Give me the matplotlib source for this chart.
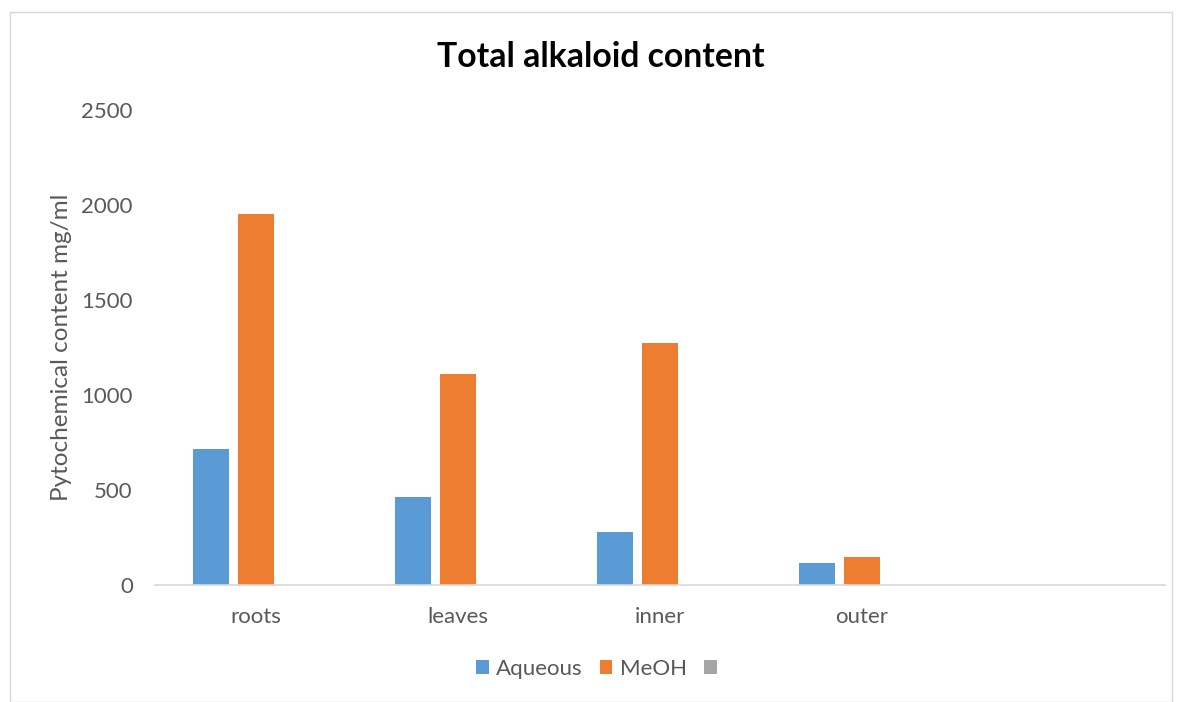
import numpy as np
import matplotlib.pyplot as plt
from matplotlib.patches import Rectangle

categories = ["roots", "leaves", "inner", "outer", ""]
aqueous = [718, 464, 280, 118, 0]
meoh = [1954, 1113, 1274, 148, 0]
third = [0, 0, 0, 0, 0]

series = [("Aqueous", aqueous, "#5B9BD5"), ("MeOH", meoh, "#ED7D31"), (" ", third, "#A5A5A5")]

plt.rcParams["font.family"] = ["Lato", "DejaVu Sans"]
text_color = "#595959"

fig = plt.figure(figsize=(11.81, 7.02), dpi=100)
ax = fig.add_axes([155 / 1181, 1 - 585 / 702, 1010 / 1181, 475 / 702])

x = np.arange(len(categories))
width = 0.178
step = 0.223
for i, (name, vals, color) in enumerate(series):
    ax.bar(x + (i - 1) * step, vals, width, color=color, label=name)

ax.set_xlim(-0.5, len(categories) - 0.5)
ax.set_ylim(0, 2500)
ax.set_yticks(range(0, 2501, 500))
ax.set_xticks(x)
ax.set_xticklabels(categories)
ax.tick_params(axis="both", length=0, labelsize=16, colors=text_color)
ax.tick_params(axis="y", pad=16)
ax.tick_params(axis="x", pad=16)
for s in ["top", "right", "left"]:
    ax.spines[s].set_visible(False)
ax.spines["bottom"].set_color("#D9D9D9")
ax.spines["bottom"].set_linewidth(1.2)

ax.set_ylabel("Pytochemical content mg/ml", fontsize=17.5, color=text_color, labelpad=7)
fig.text(601 / 1181, 1 - 57 / 702, "Total alkaloid content", ha="center", va="center",
         fontsize=24.3, fontweight="bold", color="black")

fig.legend(loc="center", bbox_to_anchor=(603 / 1181, 1 - 669 / 702), ncol=3, frameon=False,
           fontsize=16, labelcolor=text_color, handlelength=0.58, handleheight=0.58,
           handletextpad=0.35, columnspacing=0.75)

fig.patches.append(Rectangle((10 / 1181, 0), 1162 / 1181, 690 / 702, transform=fig.transFigure,
                             fill=False, edgecolor="#D9D9D9", linewidth=1))

fig.savefig("out.png", dpi=100)
